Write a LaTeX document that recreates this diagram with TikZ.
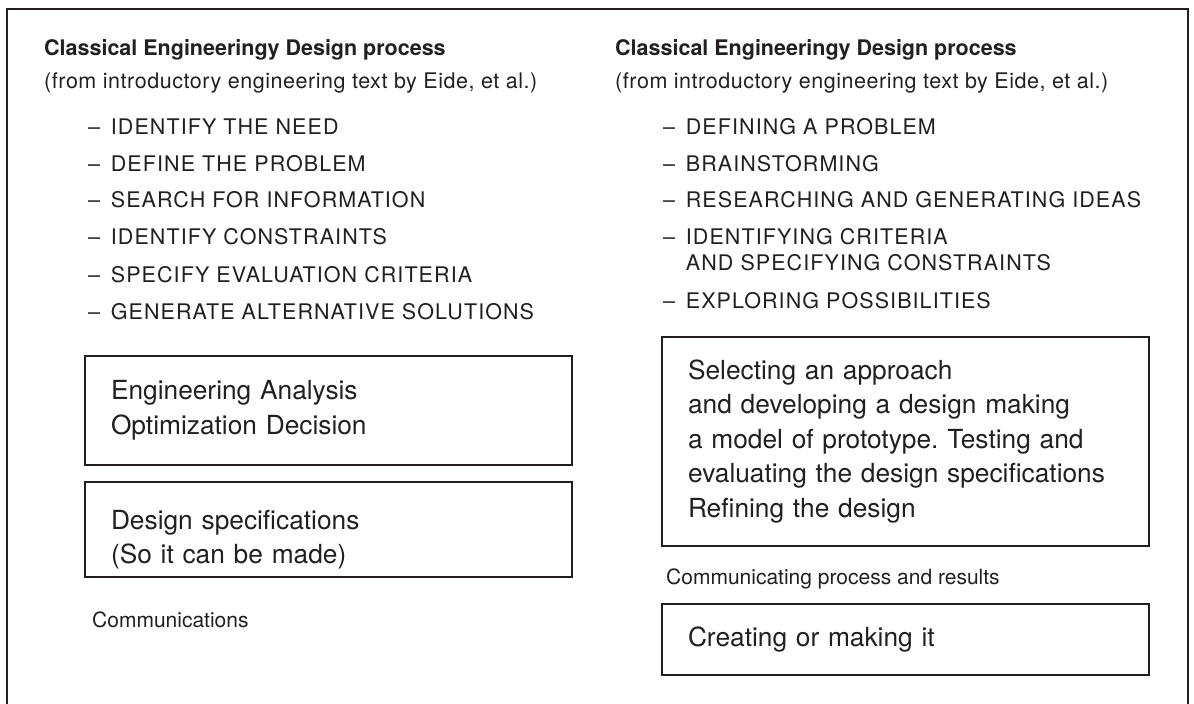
\documentclass[tikz,border=0pt]{standalone}
\usepackage{fontspec}
\setmainfont{TeX Gyre Heros}
\usetikzlibrary{positioning}

\definecolor{ink}{RGB}{35,31,32}
\newcommand{\itemdash}{–\hspace{0.5em}}
\newcommand{\boxlift}[1]{\rule{0pt}{#1}}
\frenchspacing

\tikzset{
  heading/.style={anchor=base west, inner sep=0pt, text=ink,
    font=\fontsize{21.5}{26}\selectfont\bfseries},
  source/.style={anchor=base west, inner sep=0pt, text=ink,
    font=\fontsize{21.5}{26}\selectfont\addfontfeature{LetterSpace=2.5}},
  stage/.style={anchor=base west, inner sep=0pt, text=ink, align=left,
    font=\fontsize{21.5}{26}\selectfont\addfontfeature{LetterSpace=5}},
  note/.style={anchor=base west, inner sep=0pt, text=ink,
    font=\fontsize{21}{26}\selectfont},
  stepbox/.style={draw=ink, line width=2pt, text=ink, align=left,
    minimum width=487pt, text width=435pt, inner xsep=26pt, inner ysep=0pt,
    font=\fontsize{26.3}{34.5}\selectfont},
}

\begin{document}
\begin{tikzpicture}[x=1pt,y=-1pt]
        \useasboundingbox (0,0) rectangle (1194,704);

        % frame
        \draw[ink, line width=2pt] (7,706) -- (7,9) -- (1188,9) -- (1188,706);

        % left column
        \node[heading] (lhead) at (44,55) {Classical Engineeringy Design process};
        \node[source] (lsrc) at (44,88) {(from introductory engineering text by Eide, et al.)};

        \node[stage] (need) at (88,134) {\itemdash IDENTIFY THE NEED};
        \node[stage] (define) at (88,171) {\itemdash DEFINE THE PROBLEM};
        \node[stage] (search) at (88,207) {\itemdash SEARCH FOR INFORMATION};
        \node[stage] (constr) at (88,244) {\itemdash IDENTIFY CONSTRAINTS};
        \node[stage] (criteria) at (88,282) {\itemdash SPECIFY EVALUATION CRITERIA};
        \node[stage] (altern) at (88,319) {\itemdash GENERATE ALTERNATIVE SOLUTIONS};

        \node[stepbox, minimum height=109pt] (analysis) at (328.5,410.5)
            {Engineering Analysis\\Optimization Decision};
        \node[stepbox, minimum height=95pt] (specs) at (328.5,529.5)
            {\boxlift{40pt}Design specifications\\(So it can be made)};

        \node[note] (comm) at (92,627) {Communications};

        % right column
        \node[heading] (rhead) at (615,55) {Classical Engineeringy Design process};
        \node[source] (rsrc) at (615,88) {(from introductory engineering text by Eide, et al.)};

        \node[stage] (problem) at (663,134) {\itemdash DEFINING A PROBLEM};
        \node[stage] (brain) at (663,171) {\itemdash BRAINSTORMING};
        \node[stage] (ideas) at (663,207) {\itemdash RESEARCHING AND GENERATING IDEAS};
        % base of a two-line node is its last line
        \node[stage] (ident) at (663,270)
            {\itemdash IDENTIFYING CRITERIA\\\hphantom{\itemdash}AND SPECIFYING CONSTRAINTS};
        \node[stage] (explore) at (663,308) {\itemdash EXPLORING POSSIBILITIES};

        \node[stepbox, minimum height=209pt] (select) at (905.5,441.5)
            {Selecting an approach\\and developing a design making\\a model of prototype. Testing and\\evaluating the design specifications\\Refining the design};

        \node[note] (results) at (666,584) {Communicating process and results};

        \node[stepbox, minimum height=71pt] (making) at (905.5,639.5) {Creating or making it};
\end{tikzpicture}
\end{document}
